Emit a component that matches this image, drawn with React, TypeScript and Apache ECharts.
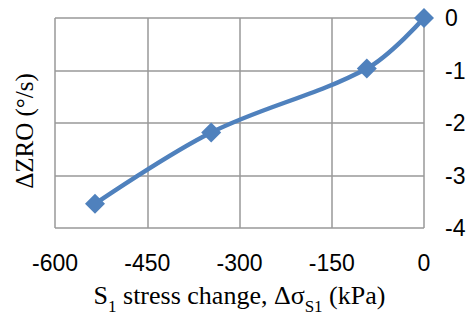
import React, { useEffect, useRef } from "react";
import * as echarts from "echarts";

const stressChange = [-535, -346, -93, 0];
const zroChange = [-3.54, -2.18, -0.96, 0];
const xTicks = { min: -600, max: 0, interval: 150 };
const yTicks = { min: -4, max: 0, interval: 1 };

export default function App() {
  const ref = useRef<HTMLDivElement>(null);
  useEffect(() => {
    if (!ref.current) return;
    const chart = echarts.init(ref.current, null, { renderer: "svg" });
    const data = stressChange.map((x, i) => [x, zroChange[i]]);
    const serif = "'Liberation Serif', 'Times New Roman', serif";
    const sans = "'Liberation Sans', Arial, sans-serif";
    chart.setOption({
      animation: false,
      backgroundColor: "#ffffff",
      grid: { left: 55, right: 49, top: 18, bottom: 89, containLabel: false },
      xAxis: {
        type: "value",
        min: xTicks.min,
        max: xTicks.max,
        interval: xTicks.interval,
        axisLine: { show: false },
        axisTick: { show: false },
        splitLine: { show: true, lineStyle: { color: "#999999", width: 1.5 } },
        axisLabel: { fontFamily: sans, fontSize: 23, color: "#000", margin: 23 },
        name: "{a|S}{s|1}{a| stress change, Δσ}{s|S1}{a| (kPa)}",
        nameLocation: "middle",
        nameGap: 54,
        nameTextStyle: {
          fontFamily: serif,
          rich: {
            a: { fontFamily: serif, fontSize: 26, color: "#000", verticalAlign: "top", lineHeight: 33 },
            s: { fontFamily: serif, fontSize: 17, color: "#000", verticalAlign: "bottom", lineHeight: 33 },
          },
        },
      },
      yAxis: {
        type: "value",
        position: "right",
        min: yTicks.min,
        max: yTicks.max,
        interval: yTicks.interval,
        axisLine: { show: false },
        axisTick: { show: false },
        splitLine: { show: true, lineStyle: { color: "#999999", width: 1.5 } },
        axisLabel: { fontFamily: sans, fontSize: 23, color: "#000", margin: 21, align: "left" },
      },
      graphic: [
        {
          type: "text",
          x: 24,
          y: 131,
          rotation: Math.PI / 2,
          style: {
            text: "ΔZRO (°/s)",
            fontFamily: serif,
            fontSize: 25,
            fill: "#000",
            align: "center",
            verticalAlign: "middle",
          },
        },
      ],
      series: [
        {
          type: "line",
          data,
          smooth: 0.35,
          symbol: "diamond",
          symbolSize: 20,
          lineStyle: { color: "#4F81BD", width: 4.5 },
          itemStyle: { color: "#4F81BD" },
        },
      ],
    });
    return () => chart.dispose();
  }, []);
  return (
    <div
      ref={ref}
      style={{ position: "absolute", left: 0, top: 0, width: 473, height: 320 }}
    />
  );
}
